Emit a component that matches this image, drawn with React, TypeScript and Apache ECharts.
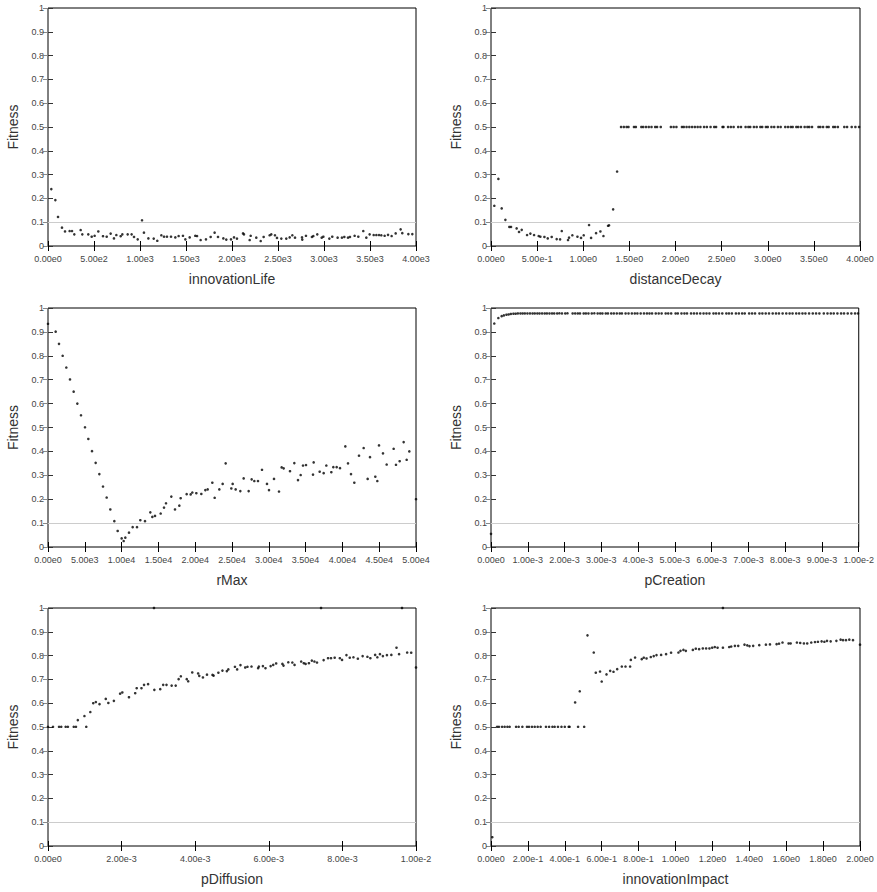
import React, { useEffect, useRef } from "react";
import * as echarts from "echarts";

type Pt = [number, number];

const innovationLifePoints: Pt[] = [
  [36, 0.239], [80, 0.193], [109, 0.122], [152, 0.077], [185, 0.061], [235, 0.063], [261, 0.063], [286, 0.049],
  [355, 0.067], [373, 0.049], [438, 0.049], [475, 0.039], [507, 0.043], [547, 0.061], [598, 0.041], [638, 0.039],
  [681, 0.052], [717, 0.032], [743, 0.046], [790, 0.041], [808, 0.049], [866, 0.049], [909, 0.049], [935, 0.038],
  [975, 0.028], [1022, 0.108], [1043, 0.056], [1091, 0.032], [1149, 0.031], [1188, 0.022], [1232, 0.045], [1261, 0.039],
  [1293, 0.039], [1337, 0.039], [1384, 0.036], [1420, 0.042], [1467, 0.043], [1493, 0.028], [1540, 0.036], [1601, 0.043],
  [1620, 0.042], [1659, 0.025], [1717, 0.028], [1768, 0.038], [1811, 0.056], [1848, 0.038], [1906, 0.032], [1938, 0.027],
  [1989, 0.028], [2022, 0.036], [2054, 0.031], [2120, 0.053], [2130, 0.049], [2192, 0.025], [2203, 0.043], [2264, 0.035],
  [2312, 0.021], [2344, 0.038], [2409, 0.045], [2427, 0.049], [2467, 0.045], [2489, 0.034], [2536, 0.031], [2590, 0.031],
  [2627, 0.036], [2656, 0.045], [2685, 0.035], [2761, 0.036], [2764, 0.027], [2804, 0.043], [2869, 0.038], [2884, 0.042],
  [2927, 0.049], [2975, 0.035], [2993, 0.039], [3058, 0.031], [3090, 0.039], [3148, 0.035], [3195, 0.035], [3221, 0.038],
  [3261, 0.035], [3282, 0.038], [3333, 0.043], [3373, 0.039], [3427, 0.063], [3460, 0.035], [3496, 0.049], [3540, 0.046],
  [3569, 0.046], [3598, 0.046], [3623, 0.045], [3659, 0.043], [3696, 0.047], [3735, 0.042], [3779, 0.053], [3833, 0.070],
  [3851, 0.054], [3917, 0.050], [3960, 0.050],
];

const distanceDecayPoints: Pt[] = [
  [0.036, 0.169], [0.08, 0.282], [0.116, 0.158], [0.156, 0.11], [0.199, 0.08], [0.217, 0.08], [0.278, 0.074], [0.304, 0.059],
  [0.333, 0.068], [0.391, 0.046], [0.427, 0.052], [0.467, 0.046], [0.517, 0.042], [0.535, 0.039], [0.579, 0.038], [0.615, 0.032],
  [0.658, 0.038], [0.712, 0.029], [0.749, 0.028], [0.767, 0.063], [0.835, 0.025], [0.846, 0.035], [0.882, 0.045], [0.937, 0.039],
  [0.976, 0.034], [1.005, 0.045], [1.063, 0.088], [1.085, 0.034], [1.139, 0.054], [1.186, 0.061], [1.219, 0.042], [1.269, 0.085],
  [1.28, 0.087], [1.324, 0.154], [1.367, 0.313],
  [1.41, 0.5], [1.44, 0.5], [1.47, 0.5], [1.49, 0.5], [1.55, 0.5], [1.57, 0.5], [1.63, 0.5], [1.65, 0.5], [1.68, 0.5],
  [1.71, 0.5], [1.74, 0.5], [1.78, 0.5], [1.8, 0.5], [1.84, 0.5], [1.95, 0.5], [1.98, 0.5], [2.01, 0.5], [2.07, 0.5],
  [2.09, 0.5], [2.12, 0.5], [2.15, 0.5], [2.18, 0.5], [2.21, 0.5], [2.24, 0.5], [2.27, 0.5], [2.31, 0.5], [2.34, 0.5],
  [2.38, 0.5], [2.42, 0.5], [2.44, 0.5], [2.51, 0.5], [2.52, 0.5], [2.57, 0.5], [2.6, 0.5], [2.63, 0.5], [2.68, 0.5],
  [2.71, 0.5], [2.76, 0.5], [2.79, 0.5], [2.81, 0.5], [2.85, 0.5], [2.88, 0.5], [2.92, 0.5], [2.94, 0.5], [2.98, 0.5],
  [3.0, 0.5], [3.04, 0.5], [3.07, 0.5], [3.11, 0.5], [3.14, 0.5], [3.19, 0.5], [3.22, 0.5], [3.25, 0.5], [3.27, 0.5],
  [3.31, 0.5], [3.33, 0.5], [3.36, 0.5], [3.4, 0.5], [3.43, 0.5], [3.45, 0.5], [3.48, 0.5], [3.55, 0.5], [3.57, 0.5],
  [3.6, 0.5], [3.64, 0.5], [3.66, 0.5], [3.71, 0.5], [3.73, 0.5], [3.76, 0.5], [3.83, 0.5], [3.86, 0.5], [3.91, 0.5],
  [3.95, 0.5], [3.99, 0.5],
];

const rMaxPoints: Pt[] = [
  [0, 0.934], [1042, 0.901], [1495, 0.85], [1993, 0.8], [2491, 0.751], [2989, 0.701], [3487, 0.65], [3986, 0.6],
  [4484, 0.551], [5027, 0.501], [5480, 0.452], [5978, 0.401], [6476, 0.352], [6975, 0.305], [7473, 0.253], [7971, 0.207],
  [8469, 0.157], [9013, 0.108], [9466, 0.067], [10009, 0.036], [10281, 0.025], [10507, 0.039], [11005, 0.06], [11503, 0.083],
  [12092, 0.083], [12545, 0.112], [13179, 0.108], [13904, 0.145], [14176, 0.126], [14538, 0.13], [15308, 0.14], [15761, 0.165],
  [16033, 0.183], [16757, 0.211], [17255, 0.157], [17844, 0.173], [18025, 0.204], [18840, 0.221], [19384, 0.22], [19610, 0.228],
  [20154, 0.225], [20833, 0.222], [21377, 0.238], [21694, 0.241], [22328, 0.269], [22645, 0.206], [23279, 0.241], [23732, 0.264],
  [24140, 0.35], [24910, 0.245], [25091, 0.264], [25498, 0.241], [26132, 0.234], [26585, 0.287], [27264, 0.234], [27672, 0.283],
  [28034, 0.276], [28532, 0.276], [29076, 0.323], [29755, 0.264], [30027, 0.238], [30706, 0.285], [31385, 0.232], [31748, 0.333],
  [32020, 0.329], [32880, 0.317], [33469, 0.351], [33967, 0.28], [34330, 0.301], [34647, 0.341], [35055, 0.343], [36006, 0.303],
  [36097, 0.354], [36912, 0.315], [37455, 0.309], [37817, 0.341], [38497, 0.313], [38768, 0.334], [39221, 0.334], [39674, 0.33],
  [40399, 0.421], [40761, 0.35], [41168, 0.305], [41621, 0.269], [42255, 0.382], [42889, 0.414], [43432, 0.285], [43749, 0.376],
  [44474, 0.294], [44745, 0.276], [44972, 0.425], [45515, 0.392], [46013, 0.345], [46964, 0.411], [47281, 0.344], [47780, 0.359],
  [48323, 0.439], [48731, 0.365], [49093, 0.4], [50000, 0.2],
];

const pCreationPoints: Pt[] = [
  [0, 0.055], [0.00009, 0.935], [0.0002, 0.958], [0.00029, 0.966], [0.00035, 0.969], [0.00042, 0.972], [0.00048, 0.973],
  [0.00054, 0.975], [0.00061, 0.976], [0.00067, 0.976], [0.00073, 0.977], [0.0008, 0.977], [0.00086, 0.977], [0.00092, 0.977],
  [0.00099, 0.977], [0.00106, 0.977], [0.00113, 0.977], [0.00119, 0.977], [0.00126, 0.977], [0.00132, 0.977], [0.00139, 0.977],
  [0.00146, 0.977], [0.00152, 0.977], [0.00159, 0.977], [0.00166, 0.977], [0.00172, 0.977], [0.0018, 0.977], [0.00186, 0.978],
  [0.00193, 0.977], [0.00202, 0.977], [0.00208, 0.978], [0.00222, 0.977], [0.00229, 0.977], [0.00236, 0.977], [0.00242, 0.977],
  [0.00252, 0.977], [0.00258, 0.977], [0.00265, 0.977], [0.00274, 0.977], [0.00281, 0.978], [0.0029, 0.977], [0.00297, 0.977],
  [0.00303, 0.977], [0.00312, 0.977], [0.00318, 0.977], [0.00327, 0.977], [0.00334, 0.977], [0.00342, 0.977], [0.0035, 0.977],
  [0.00356, 0.977], [0.00366, 0.977], [0.00374, 0.977], [0.00383, 0.977], [0.00391, 0.977], [0.00398, 0.977], [0.00407, 0.977],
  [0.00416, 0.977], [0.00424, 0.977], [0.00431, 0.977], [0.00438, 0.977], [0.00448, 0.977], [0.00456, 0.977], [0.00464, 0.977],
  [0.00475, 0.977], [0.00482, 0.977], [0.0049, 0.977], [0.00502, 0.977], [0.00508, 0.977], [0.00518, 0.977], [0.00526, 0.977],
  [0.00533, 0.977], [0.00544, 0.977], [0.00552, 0.977], [0.0056, 0.977], [0.00569, 0.977], [0.00578, 0.977], [0.00586, 0.977],
  [0.00594, 0.977], [0.00605, 0.977], [0.00612, 0.977], [0.0062, 0.977], [0.00629, 0.977], [0.0064, 0.977], [0.00647, 0.977],
  [0.00655, 0.977], [0.00666, 0.977], [0.00674, 0.977], [0.00683, 0.977], [0.0069, 0.977], [0.00702, 0.977], [0.0071, 0.977],
  [0.00718, 0.977], [0.0073, 0.977], [0.00738, 0.977], [0.00747, 0.977], [0.00756, 0.977], [0.00766, 0.977], [0.00775, 0.977],
  [0.00783, 0.977], [0.00793, 0.977], [0.00803, 0.977], [0.00812, 0.977], [0.0082, 0.977], [0.0083, 0.977], [0.00838, 0.977],
  [0.00847, 0.977], [0.00855, 0.977], [0.00865, 0.977], [0.00875, 0.977], [0.00884, 0.977], [0.00893, 0.977], [0.00905, 0.977],
  [0.00915, 0.977], [0.00924, 0.977], [0.00932, 0.977], [0.00942, 0.977], [0.00952, 0.977], [0.0096, 0.977], [0.0097, 0.977],
  [0.0098, 0.977], [0.0099, 0.977], [0.00998, 0.977],
];

const pDiffusionPoints: Pt[] = [
  [0, 0.501], [0.000136, 0.501], [0.0003, 0.501], [0.00036, 0.501], [0.00048, 0.501], [0.00054, 0.501], [0.0007, 0.501],
  [0.00076, 0.501], [0.00081, 0.529], [0.00099, 0.546], [0.00104, 0.501], [0.00115, 0.563], [0.00123, 0.6], [0.0013, 0.605],
  [0.0014, 0.596], [0.00157, 0.618], [0.00164, 0.601], [0.00179, 0.61], [0.00196, 0.64], [0.00202, 0.645], [0.0022, 0.625],
  [0.00237, 0.642], [0.00241, 0.663], [0.00254, 0.663], [0.00261, 0.677], [0.00272, 0.68], [0.00289, 0.656], [0.00305, 0.659],
  [0.00313, 0.677], [0.00322, 0.677], [0.00336, 0.674], [0.00347, 0.674], [0.00355, 0.701], [0.00361, 0.713], [0.00377, 0.701],
  [0.00381, 0.692], [0.00392, 0.729], [0.00408, 0.725], [0.00411, 0.715], [0.00421, 0.708], [0.00432, 0.72], [0.00447, 0.719],
  [0.0045, 0.716], [0.00463, 0.728], [0.00474, 0.737], [0.00486, 0.735], [0.0049, 0.742], [0.00508, 0.753], [0.00514, 0.742],
  [0.00523, 0.76], [0.00536, 0.75], [0.00542, 0.753], [0.00553, 0.754], [0.00571, 0.747], [0.00573, 0.754], [0.00584, 0.756],
  [0.00591, 0.747], [0.00605, 0.756], [0.00612, 0.761], [0.0062, 0.767], [0.00637, 0.765], [0.0064, 0.758], [0.00653, 0.772],
  [0.00664, 0.771], [0.0067, 0.761], [0.00688, 0.775], [0.00695, 0.768], [0.007, 0.765], [0.00709, 0.768], [0.00717, 0.779],
  [0.00724, 0.775], [0.00731, 0.771], [0.00749, 0.781], [0.00761, 0.789], [0.00769, 0.789], [0.00779, 0.791], [0.00793, 0.789],
  [0.00799, 0.782], [0.00811, 0.802], [0.0082, 0.791], [0.0083, 0.793], [0.00842, 0.787], [0.00855, 0.798], [0.00868, 0.795],
  [0.00876, 0.789], [0.00889, 0.803], [0.00895, 0.793], [0.00902, 0.806], [0.0091, 0.798], [0.00921, 0.802], [0.00933, 0.803],
  [0.00947, 0.833], [0.00954, 0.806], [0.00976, 0.813], [0.00987, 0.812], [0.01, 0.75],
  [0.00288, 1.0], [0.00742, 1.0], [0.00962, 1.0],
];

const innovationImpactPoints: Pt[] = [
  [0.007, 0.037], [0.033, 0.501], [0.043, 0.501], [0.06, 0.501], [0.074, 0.501], [0.089, 0.501], [0.101, 0.501], [0.136, 0.501],
  [0.15, 0.501], [0.17, 0.501], [0.195, 0.501], [0.206, 0.501], [0.222, 0.501], [0.237, 0.501], [0.253, 0.501], [0.269, 0.501],
  [0.298, 0.501], [0.315, 0.501], [0.333, 0.501], [0.345, 0.501], [0.363, 0.501], [0.382, 0.501], [0.4, 0.501], [0.421, 0.501],
  [0.426, 0.501], [0.456, 0.603], [0.472, 0.501], [0.481, 0.65], [0.505, 0.501], [0.523, 0.885], [0.557, 0.813], [0.568, 0.728],
  [0.591, 0.733], [0.6, 0.691], [0.626, 0.721], [0.646, 0.736], [0.664, 0.732], [0.684, 0.743], [0.709, 0.754], [0.729, 0.754],
  [0.754, 0.754], [0.758, 0.782], [0.781, 0.792], [0.817, 0.785], [0.828, 0.791], [0.843, 0.788], [0.866, 0.794], [0.882, 0.798],
  [0.897, 0.802], [0.922, 0.803], [0.949, 0.806], [0.976, 0.812], [1.016, 0.813], [1.027, 0.82], [1.043, 0.824], [1.056, 0.82],
  [1.094, 0.824], [1.11, 0.829], [1.128, 0.827], [1.148, 0.83], [1.166, 0.83], [1.184, 0.83], [1.199, 0.833], [1.213, 0.836],
  [1.228, 0.833], [1.257, 0.833], [1.291, 0.836], [1.302, 0.838], [1.322, 0.841], [1.34, 0.841], [1.374, 0.846], [1.389, 0.843],
  [1.401, 0.84], [1.421, 0.841], [1.454, 0.844], [1.49, 0.846], [1.512, 0.847], [1.548, 0.848], [1.561, 0.85], [1.58, 0.855],
  [1.613, 0.851], [1.624, 0.851], [1.658, 0.855], [1.676, 0.853], [1.696, 0.851], [1.714, 0.851], [1.736, 0.855], [1.756, 0.857],
  [1.772, 0.858], [1.792, 0.86], [1.807, 0.858], [1.821, 0.862], [1.841, 0.86], [1.872, 0.862], [1.895, 0.867], [1.908, 0.865],
  [1.924, 0.865], [1.942, 0.867], [1.962, 0.865], [2.0, 0.846], [1.257, 1.0],
];

const xAxisNames = ["innovationLife", "distanceDecay", "rMax", "pCreation", "pDiffusion", "innovationImpact"];
const xAxisMax = [4000, 4, 50000, 0.01, 0.01, 2];
const xAxisInterval = [500, 0.5, 5000, 0.001, 0.002, 0.2];
const panelPoints = [
  innovationLifePoints,
  distanceDecayPoints,
  rMaxPoints,
  pCreationPoints,
  pDiffusionPoints,
  innovationImpactPoints,
];
const yAxisName = "Fitness";
const referenceLevel = 0.1;

const FONT = "'Liberation Sans', Arial, Helvetica, sans-serif";
const colLeft = [48, 491];
const colWidth = [368, 369];
const rowTop = [8, 308, 608];
const rowHeight = [238, 239, 238];

function fmtX(v: number): string {
  return v.toExponential(2).replace("e+", "e");
}
function fmtY(v: number): string {
  return String(Math.round(v * 10) / 10);
}

export default function App() {
  const ref = useRef<HTMLDivElement>(null);
  useEffect(() => {
    if (!ref.current) return;
    const chart = echarts.init(ref.current, undefined, { renderer: "svg" });
    const grids: any[] = [];
    const xAxes: any[] = [];
    const yAxes: any[] = [];
    const series: any[] = [];
    for (let i = 0; i < 6; i++) {
      const c = i % 2;
      const r = Math.floor(i / 2);
      grids.push({
        left: colLeft[c],
        top: rowTop[r],
        width: colWidth[c],
        height: rowHeight[r],
        show: true,
        borderColor: "#000",
        borderWidth: 1,
        backgroundColor: "transparent",
        containLabel: false,
      });
      xAxes.push({
        type: "value",
        gridIndex: i,
        position: "bottom",
        min: 0,
        max: xAxisMax[i],
        interval: xAxisInterval[i],
        name: xAxisNames[i],
        nameLocation: "middle",
        nameGap: 26,
        nameTextStyle: { fontFamily: FONT, fontSize: 14, color: "#333" },
        axisLine: { show: false },
        axisTick: { show: true, inside: true, length: 5, lineStyle: { color: "#000", width: 1 } },
        axisLabel: {
          show: true,
          margin: 8,
          fontFamily: FONT,
          fontSize: 9,
          color: "#444",
          formatter: fmtX,
        },
        splitLine: { show: false },
      });
      xAxes.push({
        type: "value",
        gridIndex: i,
        position: "top",
        min: 0,
        max: xAxisMax[i],
        interval: xAxisInterval[i],
        axisLine: { show: false },
        axisTick: { show: true, inside: true, length: 5, lineStyle: { color: "#000", width: 1 } },
        axisLabel: { show: false },
        splitLine: { show: false },
      });
      yAxes.push({
        type: "value",
        gridIndex: i,
        position: "left",
        min: 0,
        max: 1,
        interval: 0.1,
        name: yAxisName,
        nameLocation: "middle",
        nameGap: 28,
        nameTextStyle: { fontFamily: FONT, fontSize: 14, color: "#333" },
        axisLine: { show: false },
        axisTick: { show: true, inside: true, length: 5, lineStyle: { color: "#333", width: 1 } },
        axisLabel: { show: true, margin: 4, fontFamily: FONT, fontSize: 9, color: "#444", formatter: fmtY },
        splitLine: { show: false },
      });
      yAxes.push({
        type: "value",
        gridIndex: i,
        position: "right",
        min: 0,
        max: 1,
        interval: 0.1,
        axisLine: { show: false },
        axisTick: { show: true, inside: true, length: 5, lineStyle: { color: "#888", width: 1 } },
        axisLabel: { show: false },
        splitLine: { show: false },
      });
      series.push({
        type: "scatter",
        xAxisIndex: i * 2,
        yAxisIndex: i * 2,
        data: panelPoints[i],
        symbol: "circle",
        symbolSize: 2.6,
        itemStyle: { color: "#000" },
        clip: false,
        z: 3,
        markLine: {
          silent: true,
          symbol: ["none", "none"],
          label: { show: false },
          lineStyle: { color: "#cccccc", type: "solid", width: 1 },
          data: [{ yAxis: referenceLevel }],
          z: 1,
        },
      });
    }
    chart.setOption({
      animation: false,
      backgroundColor: "#fff",
      textStyle: { fontFamily: FONT },
      grid: grids,
      xAxis: xAxes,
      yAxis: yAxes,
      series,
    });
    return () => chart.dispose();
  }, []);
  return (
    <div
      ref={ref}
      style={{ position: "absolute", left: 0, top: 0, width: 877, height: 892, background: "#fff" }}
    />
  );
}
